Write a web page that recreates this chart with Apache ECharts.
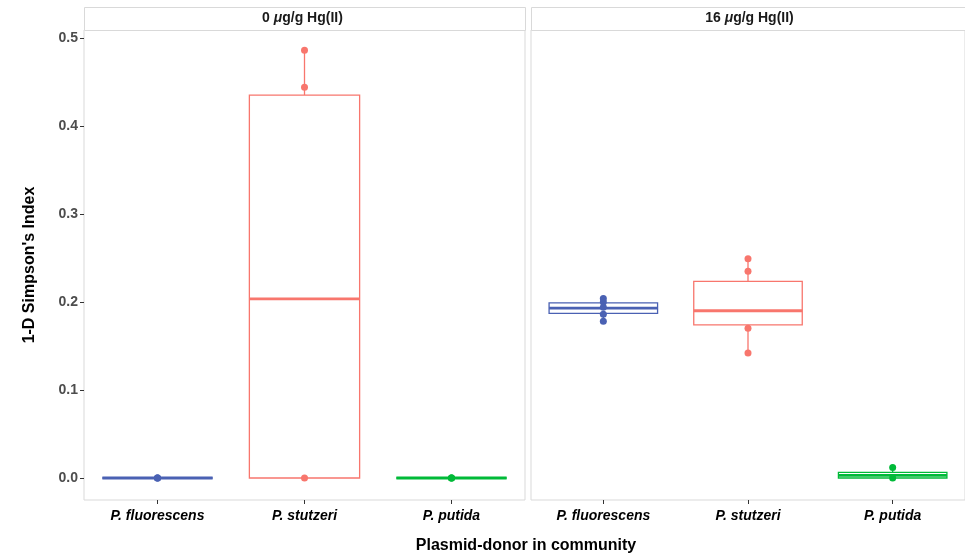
<!DOCTYPE html>
<html><head><meta charset="utf-8">
<script src="https://cdn.jsdelivr.net/npm/echarts@6/dist/echarts.min.js"></script>
<style>html,body{margin:0;padding:0;background:#fff}#c{width:965px;height:558px}</style>
</head><body><div id="c"></div>
<script>
// ---- data ----
const categories = ['P. fluorescens', 'P. stutzeri', 'P. putida'];
const panelNames = ['0', '16']; // µg/g Hg(II)
const catColors = ['#4A61B3', '#F8766D', '#00BA38'];
const yTicks = [0.0, 0.1, 0.2, 0.3, 0.4, 0.5];
// box stats per category: [min, q1, median, q3, max]
const box0 = [
  [0, 0, 0, 0, 0],
  [0, 0, 0.2035, 0.435, 0.486],
  [0, 0, 0, 0, 0]
];
const box16 = [
  [0.177, 0.187, 0.193, 0.199, 0.204],
  [0.142, 0.174, 0.190, 0.2235, 0.249],
  [0, 0, 0.003, 0.0065, 0.012]
];
// individual replicate points per category
const pts0 = [
  [0, 0, 0],
  [0.486, 0.444, 0],
  [0, 0, 0]
];
const pts16 = [
  [0.204, 0.200, 0.194, 0.186, 0.178],
  [0.249, 0.235, 0.170, 0.142],
  [0.012, 0]
];
// ---- chart ----
const chart = echarts.init(document.getElementById('c'), null, {renderer: 'canvas'});
const FONT = 'Liberation Sans, Arial, Helvetica, sans-serif';
const grids = [
  {left: 84, top: 30, width: 441, height: 470},
  {left: 531, top: 30, right: -7, height: 470}
];
const stripW = [441, 441];
function boxData(stats) { return stats.map((s, i) => [i].concat(s)); }
function ptData(p) { const out = []; p.forEach((arr, i) => arr.forEach(v => out.push([i, v]))); return out; }
function renderBox(params, api) {
  const x = api.value(0);
  const col = catColors[x];
  const half = api.size([1, 0])[0] * 0.75 / 2;
  const pMin = api.coord([x, api.value(1)]);
  const pQ1 = api.coord([x, api.value(2)]);
  const pMed = api.coord([x, api.value(3)]);
  const pQ3 = api.coord([x, api.value(4)]);
  const pMax = api.coord([x, api.value(5)]);
  const cx = pMed[0];
  return {type: 'group', children: [
    {type: 'line', shape: {x1: cx, y1: pQ1[1], x2: cx, y2: pMin[1]}, style: {stroke: col, lineWidth: 1.3}},
    {type: 'line', shape: {x1: cx, y1: pQ3[1], x2: cx, y2: pMax[1]}, style: {stroke: col, lineWidth: 1.3}},
    {type: 'rect', shape: {x: cx - half, y: pQ3[1], width: 2 * half, height: pQ1[1] - pQ3[1]}, style: {stroke: col, fill: '#fff', lineWidth: 1.3}},
    {type: 'line', shape: {x1: cx - half, y1: pMed[1], x2: cx + half, y2: pMed[1]}, style: {stroke: col, lineWidth: 2.8}}
  ]};
}
const yAxisCommon = {
  type: 'value', min: -0.025, max: 0.509,
  splitLine: {show: false}, axisLine: {show: false}
};
const xAxisCommon = {
  type: 'category', data: categories, boundaryGap: true, position: 'bottom',
  axisLine: {show: false, onZero: false}, splitLine: {show: false},
  axisTick: {show: true, alignWithLabel: true, length: 4, lineStyle: {color: '#333', width: 1}},
  axisLabel: {margin: 9, fontFamily: FONT, fontSize: 14, fontWeight: 'bold', fontStyle: 'italic', color: '#000'}
};
const stripText = (n) => '{n|' + n + ' }{i|μ}{n|g/g Hg(II)}';
const stripRich = {
  n: {fontFamily: FONT, fontSize: 14, fontWeight: 'bold', fill: '#1a1a1a'},
  i: {fontFamily: FONT, fontSize: 14, fontWeight: 'bold', fontStyle: 'italic', fill: '#1a1a1a'}
};
const graphics = [];
grids.forEach((g, i) => {
  graphics.push({type: 'rect', left: g.left, top: 7, shape: {width: stripW[i], height: 23},
    style: {fill: '#fff', stroke: '#d9d9d9', lineWidth: 1}, z: 10});
  graphics.push({type: 'text', x: g.left + stripW[i] / 2 - 2, y: 18.5, z: 11,
    style: {text: stripText(panelNames[i]), rich: stripRich, textAlign: 'center', textVerticalAlign: 'middle'}});
});
graphics.push({type: 'text', x: 526, y: 546, z: 11,
  style: {text: 'Plasmid-donor in community', font: 'bold 16px ' + FONT, fill: '#000', textAlign: 'center', textVerticalAlign: 'middle'}});

chart.setOption({
  animation: false,
  backgroundColor: '#fff',
  grid: grids.map(g => Object.assign({show: true, borderColor: '#d9d9d9', borderWidth: 1, backgroundColor: '#fff', containLabel: false}, g)),
  xAxis: [
    Object.assign({gridIndex: 0}, xAxisCommon),
    Object.assign({gridIndex: 1}, xAxisCommon)
  ],
  yAxis: [
    Object.assign({gridIndex: 0,
      name: "1-D Simpson's Index", nameLocation: 'middle', nameGap: 46, nameRotate: 90,
      nameTextStyle: {fontFamily: FONT, fontSize: 16, fontWeight: 'bold', color: '#000'},
      axisTick: {show: true, length: 4, lineStyle: {color: '#333'}, customValues: yTicks},
      axisLabel: {show: true, margin: 6, fontFamily: FONT, fontSize: 14, fontWeight: 'bold', color: '#4d4d4d',
        customValues: yTicks, formatter: v => v.toFixed(1)}
    }, yAxisCommon),
    Object.assign({gridIndex: 1, axisTick: {show: false}, axisLabel: {show: false}}, yAxisCommon)
  ],
  series: [
    {type: 'custom', xAxisIndex: 0, yAxisIndex: 0, renderItem: renderBox, data: boxData(box0), encode: {x: 0, y: [1, 2, 3, 4, 5]}, z: 2},
    {type: 'custom', xAxisIndex: 1, yAxisIndex: 1, renderItem: renderBox, data: boxData(box16), encode: {x: 0, y: [1, 2, 3, 4, 5]}, z: 2},
    {type: 'scatter', xAxisIndex: 0, yAxisIndex: 0, data: ptData(pts0), symbolSize: 7, z: 3,
      itemStyle: {opacity: 1, color: p => catColors[p.value[0]]}},
    {type: 'scatter', xAxisIndex: 1, yAxisIndex: 1, data: ptData(pts16), symbolSize: 7, z: 3,
      itemStyle: {opacity: 1, color: p => catColors[p.value[0]]}}
  ],
  graphic: graphics
});
</script></body></html>
